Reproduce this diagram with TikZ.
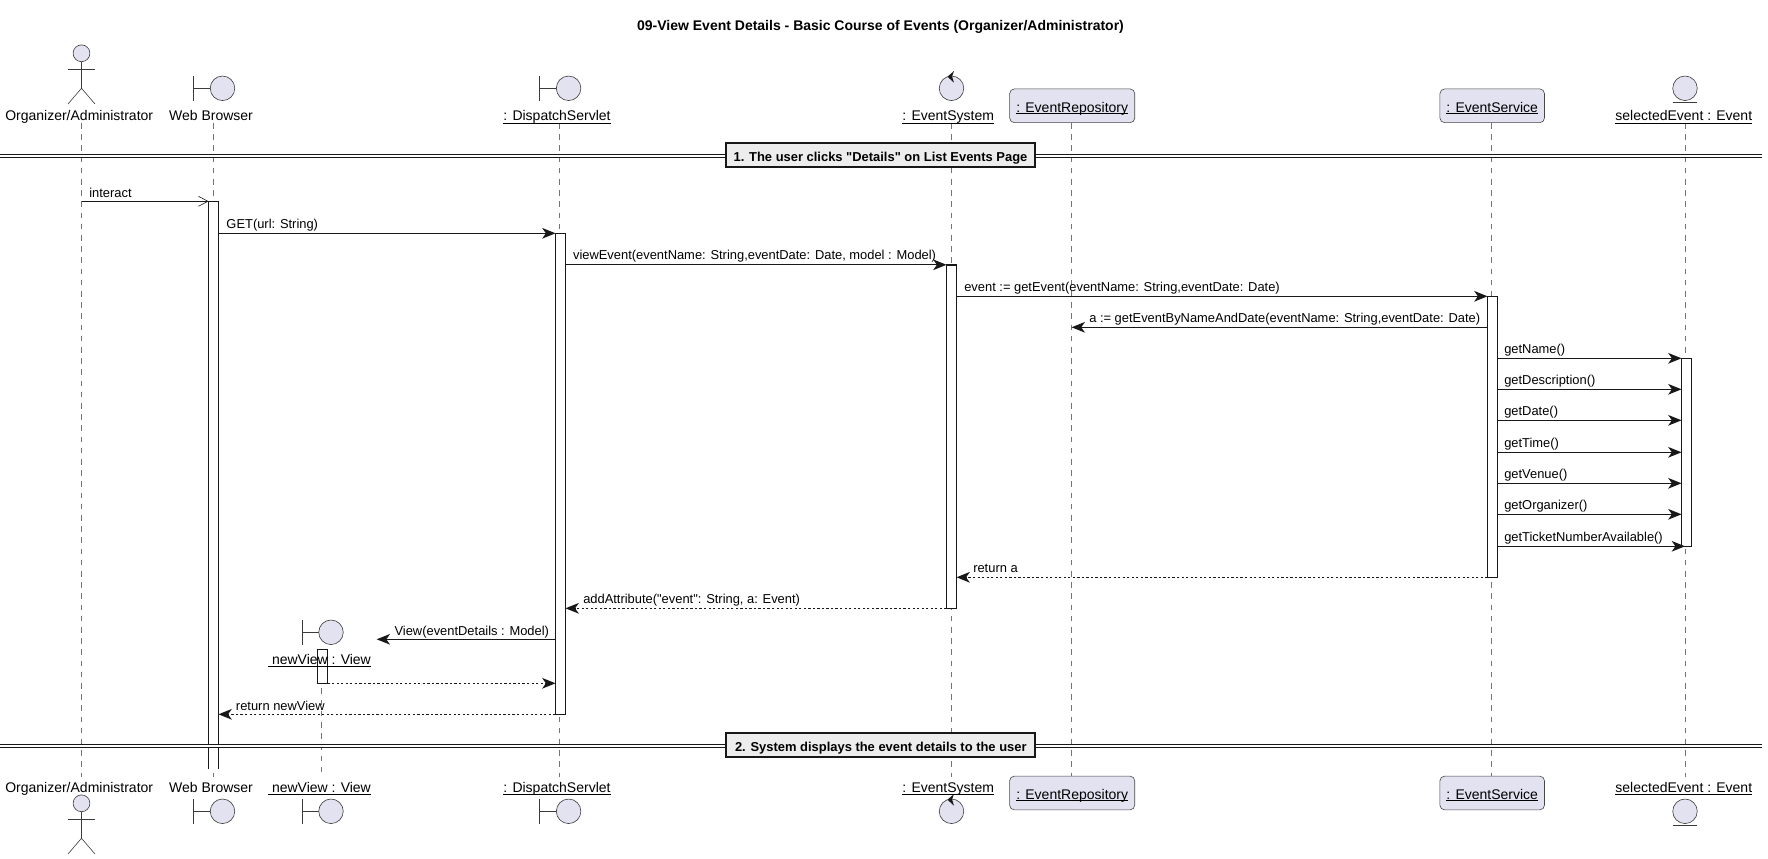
\documentclass[tikz,border=0pt]{standalone}
\usepackage{fontspec}
\setmainfont{Liberation Sans}
\newfontfamily\plainfont{Liberation Sans}
\usetikzlibrary{arrows.meta,shadows}
\definecolor{inkc}{HTML}{181818}
\definecolor{partc}{HTML}{E2E2F0}
\newcommand{\ultext}[1]{\setbox0\hbox{#1}\rlap{\vrule width\wd0 height-1.6pt depth 2.3pt}\box0}
\newcommand{\ulboxtext}[1]{\setbox0\hbox{#1}\rlap{\vrule width\wd0 height-.6pt depth 1.3pt}\box0}
\newcommand{\boundaryicon}[2]{
	\draw [icon] (#1-20,#2-12.3) -- (#1-20,#2+12.3);
	\draw [icon] (#1-20,#2) -- (#1-3,#2);
	\draw [icon,fill=partc] (#1+9,#2) circle [radius=9.2pt];
}
\newcommand{\controlicon}[2]{
	\draw [icon,fill=partc] (#1,#2) circle [radius=9.2pt];
	\fill [inkc] (#1-4,#2-11.6) -- (#1+2.5,#2-17.3) -- (#1+.6,#2-11.7) -- (#1+2.5,#2-5.6) -- cycle;
}
\newcommand{\entityicon}[2]{
	\draw [icon,fill=partc] (#1,#2) circle [radius=9.2pt];
	\draw [icon] (#1-12.3,#2+14) -- (#1+12.3,#2+14);
}
\newcommand{\actoricon}[2]{
	\draw [icon,fill=partc] (#1,#2) circle [radius=6.3pt];
	\draw [icon] (#1,#2+8.4) -- (#1,#2+35);
	\draw [icon] (#1-13.5,#2+16) -- (#1+13.5,#2+16);
	\draw [icon] (#1-13.5,#2+50.7) -- (#1,#2+35) -- (#1+13.5,#2+50.7);
}
\tikzset{
	icon/.style={draw=inkc!85,line width=.45pt},
	lifeline/.style={draw=inkc!60,line width=.45pt,dash pattern=on 4.2pt off 4.2pt},
	bar/.style={rectangle,draw=inkc,fill=white,line width=.85pt,inner sep=0pt,outer sep=0pt,minimum width=7.5pt},
	barline/.style={draw=inkc,line width=.85pt},
	msg/.style={draw=inkc,line width=.85pt,-{Stealth[length=10pt,width=8pt,inset=2.8pt]}},
	ret/.style={msg,dash pattern=on 1.7pt off 1.7pt},
	async/.style={draw=inkc,line width=.85pt,-{Straight Barb[length=7pt,width=7.5pt,line width=.45pt]}},
	lbl/.style={inner sep=0pt,anchor=base west,font=\fontsize{9.68}{12}\selectfont,text=black},
	hd/.style={inner sep=0pt,anchor=base,font=\fontsize{10.5}{13}\selectfont,text=black},
	partbox/.style={rectangle,rounded corners=3.5pt,draw=inkc!80,line width=.45pt,fill=partc,inner sep=0pt,minimum height=25.3pt,text height=12pt,text depth=2.2pt,font=\fontsize{10.5}{13}\selectfont},
	divbox/.style={rectangle,draw=inkc,fill=black!7,line width=1.5pt,inner sep=0pt,minimum width=231.5pt,minimum height=18pt,text height=12pt,text depth=2.5pt,font=\fontsize{9.7}{12}\selectfont\bfseries,drop shadow={shadow xshift=.7pt,shadow yshift=-.7pt,fill=inkc,opacity=1}},
	divline/.style={draw=inkc,line width=.85pt,double=white,double distance=1.2pt}
}
\begin{document}
\begin{tikzpicture}[x=.75pt,y=-.75pt]
	\useasboundingbox (0,0) rectangle (1768,859);
	\node (title) [inner sep=0pt,font=\fontsize{10.5}{13}\selectfont\bfseries] at (880.5,27) {09-View Event Details - Basic Course of Events (Organizer/Administrator)};
	% lifelines
	\coordinate (lEnd) at (0,776.5);
	\coordinate (lOrg) at (81.5,123);
	\coordinate (lWeb) at (213.5,123);
	\coordinate (lView) at (321.5,666);
	\coordinate (lDisp) at (559.6,123);
	\coordinate (lSys) at (951.5,123);
	\coordinate (lRepo) at (1071.6,123);
	\coordinate (lServ) at (1491.4,123);
	\coordinate (lSel) at (1685,123);
	\foreach \l in {lOrg,lWeb,lView,lDisp,lSys,lRepo,lServ,lSel}
		\draw [lifeline] (\l) -- (\l |- lEnd);
	% activation bars
	\node (barWeb) [bar,draw=none,minimum height=425.8pt] at (213.5,485.15) {};
	\draw [barline] (barWeb.south west) -- (barWeb.north west) -- (barWeb.north east) -- (barWeb.south east);
	\node (barDisp) [bar,minimum height=360.75pt] at (560.5,473.8) {};
	\node (barSys) [bar,minimum height=257.5pt] at (951.5,436.65) {};
	\node (barServ) [bar,minimum height=210.75pt] at (1492.5,436.8) {};
	\node (barSel) [bar,minimum height=141pt] at (1686.5,452.3) {};
	\node (barView) [bar,minimum height=25.5pt] at (322.5,666.3) {};
	% participants on top
	\actoricon{81.5}{53.3}
	\boundaryicon{213.5}{88.3}
	\boundaryicon{559.6}{88.3}
	\controlicon{951.5}{88.3}
	\entityicon{1685}{88.3}
	\boundaryicon{322}{632.3}
	\node (hdOrg) [hd] at (79.2,120.5) {Organizer/Administrator};
	\node (hdWeb) [hd] at (211,120.5) {Web Browser};
	\node (hdDisp) [hd] at (557,120.5) {\ultext{: DispatchServlet}};
	\node (hdSys) [hd] at (948.2,120.5) {\ultext{: EventSystem}};
	\node (hdRepo) [partbox,minimum width=93.8pt] at (1072.2,105.8) {\ulboxtext{: EventRepository}};
	\node (hdServ) [partbox,minimum width=78.4pt] at (1492.2,105.8) {\ulboxtext{: EventService}};
	\node (hdSel) [hd] at (1683.8,120.5) {\ultext{selectedEvent : Event}};
	\node (hdView) [hd] at (319.5,664) {\ultext{\ newView : View}};
	% participants at the bottom
	\node (ftOrg) [hd] at (79.2,792) {Organizer/Administrator};
	\node (ftWeb) [hd] at (211,792) {Web Browser};
	\node (ftView) [hd] at (319.5,792) {\ultext{\ newView : View}};
	\node (ftDisp) [hd] at (557,792) {\ultext{: DispatchServlet}};
	\node (ftSys) [hd] at (948.2,792) {\ultext{: EventSystem}};
	\node (ftRepo) [partbox,minimum width=93.8pt] at (1072.2,793) {\ulboxtext{: EventRepository}};
	\node (ftServ) [partbox,minimum width=78.4pt] at (1492.2,793) {\ulboxtext{: EventService}};
	\node (ftSel) [hd] at (1683.8,792) {\ultext{selectedEvent : Event}};
	\actoricon{81.5}{803.3}
	\boundaryicon{213.5}{811.3}
	\boundaryicon{322}{811.3}
	\boundaryicon{559.6}{811.3}
	\controlicon{951.5}{811.3}
	\entityicon{1685}{811.3}
	% dividers
	\coordinate (divLa) at (0,155.8);
	\coordinate (divRa) at (1762,155.8);
	\coordinate (divLb) at (0,745.7);
	\coordinate (divRb) at (1762,745.7);
	\draw [divline] (divLa) -- (divRa);
	\draw [divline] (divLb) -- (divRb);
	\node (divA) [divbox] at (880.5,155.3) {\plainfont 1. The user clicks "Details" on List Events Page\hspace{6pt}};
	\node (divB) [divbox,text height=13.2pt] at (880.8,744.5) {2. System displays the event details to the user\hspace{6pt}};
	% messages
	\foreach \n/\y in {interact/201.3,get/233.3,view/264.8,event/296.3,repo/327.3,name/358.3,desc/389.3,date/420.3,time/452.3,venue/483.3,orga/514.3,tick/546.3,reta/577.3,attr/608.3,make/639.3,back/683.3,retv/714.3}
		\coordinate (m\n) at (0,\y);
	\coordinate (cView) at (376.7,639.3);
	\draw [async] (lOrg |- minteract) -- (barWeb.west |- minteract);
	\draw [msg] (barWeb.east |- mget) -- (barDisp.west |- mget);
	\draw [msg] (barDisp.east |- mview) -- (barSys.west |- mview);
	\draw [msg] (barSys.east |- mevent) -- (barServ.west |- mevent);
	\draw [msg] (barServ.west |- mrepo) -- (lRepo |- mrepo);
	\foreach \n in {name,desc,date,time,venue,orga}
		\draw [msg] (barServ.east |- m\n) -- (barSel.west |- m\n);
	\draw [msg] (barServ.east |- mtick) -- (lSel |- mtick);
	\draw [ret] (barServ.west |- mreta) -- (barSys.east |- mreta);
	\draw [ret] (barSys.west |- mattr) -- (barDisp.east |- mattr);
	\draw [msg] (barDisp.west |- cView) -- (cView);
	\draw [ret] (barView.east |- mback) -- (barDisp.west |- mback);
	\draw [ret] (barDisp.west |- mretv) -- (barWeb.east |- mretv);
	% message labels
	\node (tInteract) [lbl] at (89,197.3) {interact};
	\node (tGet) [lbl] at (226.2,228.3) {GET(url: String)};
	\node (tView) [lbl] at (572.8,259.8) {viewEvent(eventName: String,eventDate: Date, model : Model)};
	\node (tEvent) [lbl] at (964,291.3) {event := getEvent(eventName: String,eventDate: Date)};
	\node (tRepo) [lbl] at (1089,322.3) {a := getEventByNameAndDate(eventName: String,eventDate: Date)};
	\node (tName) [lbl] at (1504,353.8) {getName()};
	\node (tDesc) [lbl] at (1504,384.8) {getDescription()};
	\node (tDate) [lbl] at (1504,415.8) {getDate()};
	\node (tTime) [lbl] at (1504,447.8) {getTime()};
	\node (tVenue) [lbl] at (1504,478.8) {getVenue()};
	\node (tOrga) [lbl] at (1504,509.8) {getOrganizer()};
	\node (tTick) [lbl] at (1504,541.8) {getTicketNumberAvailable()};
	\node (tRetA) [lbl] at (973,572.8) {return a};
	\node (tAttr) [lbl] at (583,603.3) {{\plainfont addAttribute("event": String, a: Event)}};
	\node (tMake) [lbl] at (394.3,635.8) {View(eventDetails : Model)};
	\node (tRetV) [lbl] at (235.7,710) {return newView};
\end{tikzpicture}
\end{document}
